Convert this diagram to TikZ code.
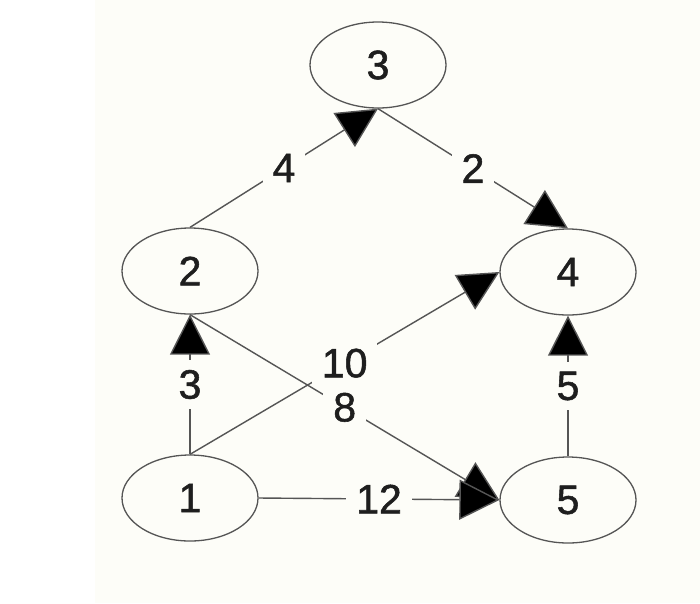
\documentclass[tikz,border=0pt]{standalone}
\usepackage{fontspec}
\setmainfont{Liberation Sans}
\newfontfamily\digitfont[FakeBold=1.3]{Liberation Sans}
\usepackage{tikz}
\usetikzlibrary{shapes.geometric, arrows.meta}
\definecolor{gPaper}{HTML}{FDFDF8}
\definecolor{gInk}{HTML}{1E1E1E}
\definecolor{gLine}{HTML}{555555}
\tikzset{
  vertex/.style={draw=gLine, ellipse, line width=1.3pt, minimum width=136pt,
    minimum height=86pt, inner sep=0pt, text=gInk, font=\digitfont\fontsize{41}{48}\selectfont},
  edge/.style={draw=gLine, line width=1.4pt, -{Triangle[length=40pt, width=40pt, fill=black]}},
  weight/.style={fill=gPaper, inner sep=10pt, text=gInk, font=\digitfont\fontsize{41}{48}\selectfont},
}

\begin{document}
\begin{tikzpicture}[x=1pt, y=-1pt]
        \useasboundingbox (0,0) rectangle (700,603);
        \fill[white] (0,0) rectangle (700,603);
        \fill[gPaper] (95,0) rectangle (700,603);
        % vertices
        \node[vertex] (v3) at (378,65) {3};
        \node[vertex] (v2) at (190,271) {2};
        \node[vertex] (v4) at (568,272) {4};
        \node[vertex] (v1) at (190,498) {1};
        \node[vertex] (v5) at (568,500) {5};
        % weighted edges
        \draw[edge] (v2.north) -- node[weight] {4} (v3.south);
        \draw[edge] (v3.south) -- node[weight] {2} (v4.north);
        \draw[edge] (v1.north) -- node[weight] {3} (v2.south);
        \draw[edge] (v1.north) -- node[weight] {10} (v4.west);
        \draw[edge] (v2.south) -- node[weight] {8} (v5.west);
        \draw[edge] (v5.north) -- node[weight] {5} (v4.south);
        \draw[edge] (v1.east) -- node[weight] {12} (v5.west);
      \end{tikzpicture}
\end{document}
